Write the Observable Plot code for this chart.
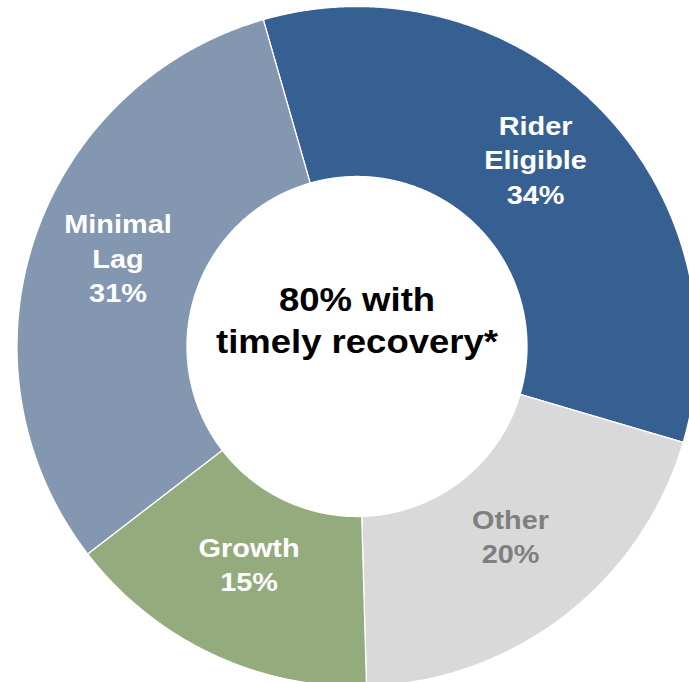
<!DOCTYPE html>
<html>
<head>
<meta charset="utf-8">
<script src="https://cdn.jsdelivr.net/npm/d3@7"></script>
<script src="https://cdn.jsdelivr.net/npm/@observablehq/plot@0.6"></script>
<style>
  html, body { margin: 0; padding: 0; background: #fff; }
  #chart { width: 689px; height: 682px; overflow: hidden; }
</style>
</head>
<body>
<div id="chart"></div>
<script>
// ---- data ----
const categories = ["Rider Eligible", "Other", "Growth", "Minimal Lag"];
const values = [34, 20, 15, 31];
const colors = ["#376092", "#D9D9D9", "#93AB7D", "#8497B0"];
const labelColors = ["#FFFFFF", "#7F7F7F", "#FFFFFF", "#FFFFFF"];
const centerLabel = "80% with\ntimely recovery*";

// ---- layout ----
const W = 689, H = 682;
const cx = 356.5, cy = 346, R = 340;   // pixel centre & outer radius
const innerRatio = 0.5;
const startDeg = -16;
const deg = Math.PI / 180;

const pie = d3.pie().sort(null)
  .startAngle(startDeg * deg)
  .endAngle((startDeg + 360) * deg)(values);

// slice outlines (outer arc, then inner arc back)
const slicePts = [];
pie.forEach((a, i) => {
  const name = categories[i];
  const n = Math.max(2, Math.ceil((a.endAngle - a.startAngle) / (0.25 * deg)));
  const pts = [];
  for (let k = 0; k <= n; k++) {
    const t = a.startAngle + (a.endAngle - a.startAngle) * k / n;
    pts.push({name, x: Math.sin(t), y: Math.cos(t)});
  }
  for (let k = n; k >= 0; k--) {
    const t = a.startAngle + (a.endAngle - a.startAngle) * k / n;
    pts.push({name, x: innerRatio * Math.sin(t), y: innerRatio * Math.cos(t)});
  }
  pts.push({...pts[0]});
  slicePts.push(...pts);
});

const labelR = 0.74;
const labels = pie.map((a, i) => {
  const m = (a.startAngle + a.endAngle) / 2;
  return {
    text: categories[i].replace(" ", "\n") + "\n" + values[i] + "%",
    x: labelR * Math.sin(m),
    y: labelR * Math.cos(m),
    color: labelColors[i]
  };
});

const xDomain = [(0 - cx) / R, (W - cx) / R];
const yDomain = [-(H - cy) / R, cy / R];

const font = "'Liberation Sans', Arial, Helvetica, sans-serif";

const svg = Plot.plot({
  width: W,
  height: H,
  margin: 0,
  x: {domain: xDomain, axis: null},
  y: {domain: yDomain, axis: null},
  color: {domain: categories, range: colors},
  style: {fontFamily: font, background: "white"},
  marks: [
    Plot.line(slicePts, {
      x: "x", y: "y", z: "name",
      fill: "name",
      stroke: "white", strokeWidth: 1.3,
      curve: "linear", clip: true
    }),
    Plot.text(labels, {
      x: "x", y: "y", text: "text",
      fill: d => d.color,
      dy: -11,
      fontSize: 26.5, fontWeight: "bold", fontFamily: font,
      lineHeight: 1.3, textAnchor: "middle"
    }),
    Plot.text([centerLabel], {
      x: () => 0, y: () => 0, text: d => d,
      dy: -28,
      fill: "black",
      fontSize: 33.5, fontWeight: "bold", fontFamily: font,
      lineHeight: 1.25, textAnchor: "middle"
    })
  ]
});

// slight horizontal widening of the glyphs, as in the reference rendering
svg.querySelectorAll('g[aria-label="text"] text').forEach(t => {
  const tr = t.getAttribute("transform") || "";
  t.setAttribute("transform", tr + " scale(1.09,1)");
});

document.getElementById("chart").appendChild(svg);
</script>
</body>
</html>
